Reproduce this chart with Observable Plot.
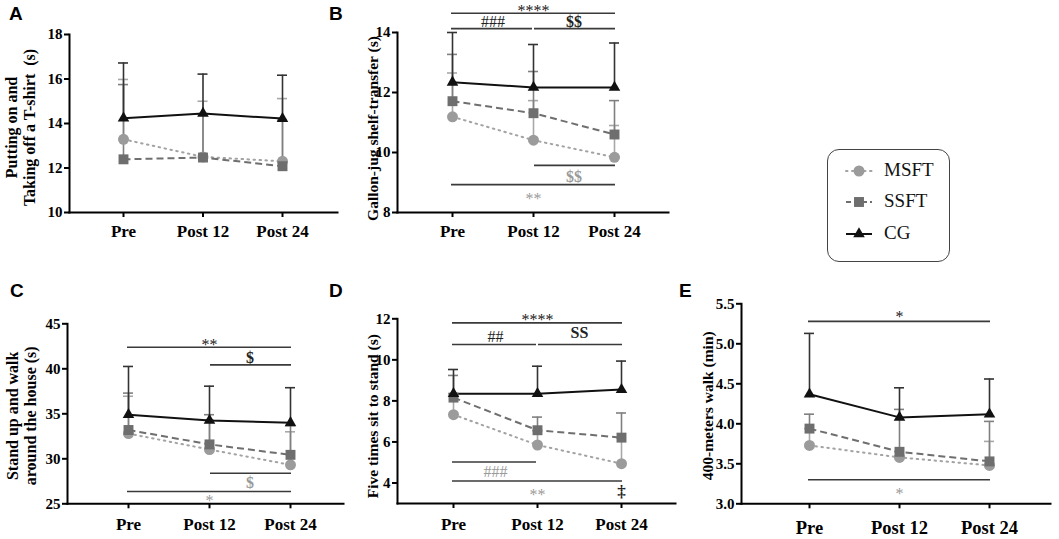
<!DOCTYPE html>
<html><head><meta charset="utf-8">
<script src="https://cdn.jsdelivr.net/npm/d3@7"></script>
<script src="https://cdn.jsdelivr.net/npm/@observablehq/plot@0.6"></script>
<style>
body{margin:0;background:#fff;}
#root{position:relative;width:1059px;height:539px;overflow:hidden;background:#fff;}
.pl{position:absolute;}
.letter{position:absolute;font:bold 19px "Liberation Sans",Arial,sans-serif;line-height:19px;color:#000;}
#legend{position:absolute;left:827px;top:149px;width:121px;height:111px;border:1.5px solid #444;border-radius:12px;box-sizing:content-box;}
.li{position:absolute;left:0;height:20px;width:121px;}
.li svg{position:absolute;left:14px;top:0;}
.li span{position:absolute;left:56px;top:-2px;font:19px "Liberation Serif","Times New Roman",serif;color:#111;line-height:22px;}
</style></head><body><div id="root"></div>
<script>
const categories = ["Pre", "Post 12", "Post 24"];
const groups = ["MSFT", "SSFT", "CG"];

// Panel A — Putting on and taking off a T-shirt (s)
const aMSFT = [13.29, 12.50, 12.30], aMSFTsd = [2.69, 2.50, 2.82];
const aSSFT = [12.39, 12.47, 12.08], aSSFTsd = [3.36, 1.93, 2.07];
const aCG   = [14.24, 14.45, 14.22], aCGsd   = [2.48, 1.77, 1.95];
const aTicks = [10, 12, 14, 16, 18];

// Panel B — Gallon-jug shelf-transfer (s)
const bMSFT = [11.19, 10.41, 9.84], bMSFTsd = [1.46, 1.32, 1.06];
const bSSFT = [11.71, 11.31, 10.60], bSSFTsd = [1.56, 1.39, 1.13];
const bCG   = [12.34, 12.17, 12.17], bCGsd   = [1.66, 1.43, 1.48];
const bTicks = [8, 10, 12, 14];
const bSig = [
  {from: "Pre", to: "Post 24", y: 14.64, ly: 14.83, label: "****", tone: "dark"},
  {from: "Pre", to: "Post 12", y: 14.13, ly: 14.37, label: "###", tone: "dark"},
  {from: "Post 12", to: "Post 24", y: 14.13, ly: 14.37, label: "$$", tone: "dark"},
  {from: "Post 12", to: "Post 24", y: 9.57, ly: 9.20, label: "$$", tone: "gray"},
  {from: "Pre", to: "Post 24", y: 8.93, ly: 8.57, label: "**", tone: "gray"}
];

// Panel C — Stand up and walk around the house (s)
const cMSFT = [32.80, 31.03, 29.33], cMSFTsd = [4.15, 3.27, 3.67];
const cSSFT = [33.20, 31.60, 30.44], cSSFTsd = [4.10, 3.30, 3.26];
const cCG   = [34.90, 34.26, 34.00], cCGsd   = [5.36, 3.81, 3.90];
const cTicks = [25, 30, 35, 40, 45];
const cSig = [
  {from: "Pre", to: "Post 24", y: 42.40, ly: 43.03, label: "**", tone: "dark"},
  {from: "Post 12", to: "Post 24", y: 40.44, ly: 41.26, label: "$", tone: "dark"},
  {from: "Post 12", to: "Post 24", y: 28.40, ly: 27.29, label: "$", tone: "gray"},
  {from: "Pre", to: "Post 24", y: 26.37, ly: 25.62, label: "*", tone: "gray"}
];

// Panel D — Five times sit to stand (s)
const dMSFT = [7.33, 5.85, 4.94], dMSFTsd = [1.02, 0.70, 1.26];
const dSSFT = [8.16, 6.57, 6.21], dSSFTsd = [1.08, 0.64, 1.20];
const dCG   = [8.35, 8.35, 8.55], dCGsd   = [1.18, 1.34, 1.39];
const dTicks = [4, 6, 8, 10, 12];
const dSig = [
  {from: "Pre", to: "Post 24", y: 11.80, ly: 12.08, label: "****", tone: "dark"},
  {from: "Pre", to: "Post 12", y: 10.75, ly: 11.14, label: "##", tone: "dark"},
  {from: "Post 12", to: "Post 24", y: 10.75, ly: 11.32, label: "SS", tone: "dark"},
  {from: "Pre", to: "Post 12", y: 5.02, ly: 4.54, label: "###", tone: "gray"},
  {from: "Pre", to: "Post 24", y: 4.10, ly: 3.56, label: "**", tone: "gray"}
];
const dNotes = [{at: "Post 24", ly: 3.56, label: "‡", tone: "dark"}];

// Panel E — 400-meters walk (min)
const eMSFT = [3.73, 3.58, 3.48], eMSFTsd = [0.21, 0.07, 0.30];
const eSSFT = [3.94, 3.65, 3.53], eSSFTsd = [0.18, 0.53, 0.50];
const eCG   = [4.37, 4.08, 4.12], eCGsd   = [0.76, 0.37, 0.44];
const eTicks = [3.0, 3.5, 4.0, 4.5, 5.0, 5.5];
const eSig = [
  {from: "Pre", to: "Post 24", y: 5.28, ly: 5.375, label: "*", tone: "dark"},
  {from: "Pre", to: "Post 24", y: 3.30, ly: 3.166, label: "*", tone: "gray"}
];

const styles = {
  MSFT: {line: "#a3a3a3", dash: "1.5,4.5", fill: "#9b9b9b", symbol: "circle", r: 5.5, err: "#a8a8a8"},
  SSFT: {line: "#6f6f6f", dash: "7,4", fill: "#6e6e6e", symbol: "square", r: 5.6, err: "#808080"},
  CG:   {line: "#111111", dash: null, fill: "#111111", symbol: "triangle", r: 4.3, err: "#333333"}
};
const toneColor = {dark: "#222", gray: "#9a9a9a"};
const SERIF = '"Liberation Serif","Times New Roman",serif';
const root = document.getElementById("root");

function panel(cfg, series, sig, notes) {
  const rows = [];
  for (const g of groups) series[g][0].forEach((m, i) =>
    rows.push({time: categories[i], group: g, mean: m, top: m + series[g][1][i]}));
  const cap = 10;
  const c = cfg.centers;
  const W = c[2] - c[0] + cap;
  const pi = (W - 3 * cap) / (W - cap);
  const step = (c[2] - c[0]) / 2;
  const idx = (k) => categories.indexOf(k);
  const marks = [];
  for (const g of groups) {
    const d = rows.filter(r => r.group === g), st = styles[g];
    marks.push(Plot.ruleX(d, {x: "time", y1: "mean", y2: "top", stroke: st.err, strokeWidth: 1.6}));
    marks.push(Plot.tickY(d, {x: "time", y: "top", stroke: st.err, strokeWidth: 1.6}));
  }
  for (const g of groups) {
    const d = rows.filter(r => r.group === g), st = styles[g];
    marks.push(Plot.lineY(d, {x: "time", y: "mean", stroke: st.line, strokeWidth: 2,
      strokeDasharray: st.dash || undefined, strokeLinecap: g === "MSFT" ? "round" : "butt"}));
  }
  for (const g of groups) {
    const d = rows.filter(r => r.group === g), st = styles[g];
    marks.push(Plot.dot(d, {x: "time", y: "mean", symbol: st.symbol, r: st.r, fill: st.fill, stroke: "none"}));
  }
  for (const s of (sig || [])) {
    const i = idx(s.from), j = idx(s.to);
    marks.push(Plot.ruleY([s], {x1: "from", x2: "to", y: "y", stroke: "#3a3a3a", strokeWidth: 1.6,
      insetLeft: i === 1 ? cap / 2 + 1 : cap / 2 - 1, insetRight: j === 1 ? cap / 2 + 1 : cap / 2 - 1}));
    marks.push(Plot.text([s], {x: "from", y: "ly", text: "label", dx: (j - i) * step / 2,
      dy: s.label.includes("*") ? 3 : 0, fill: toneColor[s.tone], fontSize: 16, fontFamily: SERIF,
      fontWeight: /[$S]/.test(s.label) ? "bold" : "normal", lineAnchor: "middle"}));
  }
  for (const n of (notes || [])) {
    marks.push(Plot.text([n], {x: "at", y: "ly", text: "label", fill: toneColor[n.tone], fontSize: 17, fontFamily: SERIF, lineAnchor: "middle"}));
  }
  marks.push(Plot.axisY({ticks: cfg.ticks, tickFormat: cfg.fmt, tickSize: 5, tickPadding: 2, strokeWidth: 2,
    fontSize: 15, fontFamily: SERIF, fontWeight: "bold", fill: "#000", label: null}));
  marks.push(Plot.axisX({tickSize: 5, tickPadding: cfg.tickPad, strokeWidth: 2, fontSize: cfg.xFont,
    fontFamily: SERIF, fontWeight: "bold", fill: "#000", label: null}));
  marks.push(Plot.frame({anchor: "left", stroke: "#000", strokeWidth: 2}));
  marks.push(Plot.frame({anchor: "bottom", stroke: "#000", strokeWidth: 2}));
  marks.push(Plot.text([cfg.ylabel], {text: d => d, frameAnchor: "left", rotate: -90, dx: cfg.labelDx, dy: cfg.labelDy,
    fontSize: cfg.labelFont, fontFamily: SERIF, fontWeight: "bold", lineHeight: 1.12, textAnchor: "middle", lineAnchor: "middle", fill: "#000"}));
  const svg = Plot.plot({
    width: cfg.width, height: cfg.height,
    marginLeft: cfg.ml, marginRight: cfg.mr, marginTop: cfg.mt, marginBottom: cfg.mb,
    style: {fontFamily: SERIF, fontWeight: "bold", fontSize: "15px", color: "#000", background: "transparent", overflow: "visible"},
    x: {type: "band", domain: categories, range: [c[0] - cap / 2, c[2] + cap / 2], paddingInner: pi, paddingOuter: 0, align: 0.5, round: false},
    y: {domain: cfg.domain},
    marks
  });
  const wrap = document.createElement("div");
  wrap.className = "pl";
  wrap.style.left = cfg.left + "px";
  wrap.style.top = cfg.top + "px";
  wrap.appendChild(svg);
  root.appendChild(wrap);
}

panel({left: 0, top: 0, width: 345, height: 260, ml: 69, mr: 8, mt: 34, mb: 48, centers: [123, 202, 282],
  domain: [10, 18], ticks: aTicks, fmt: d3.format("d"), tickPad: 7, xFont: 17,
  ylabel: "Putting on and\nTaking off a T-shirt  (s)", labelDx: -49, labelDy: 4, labelFont: 16},
  {MSFT: [aMSFT, aMSFTsd], SSFT: [aSSFT, aSSFTsd], CG: [aCG, aCGsd]}, [], []);

panel({left: 345, top: 0, width: 335, height: 260, ml: 52, mr: 12, mt: 32, mb: 48, centers: [107, 188, 269],
  domain: [8, 14], ticks: bTicks, fmt: d3.format("d"), tickPad: 7, xFont: 17,
  ylabel: "Gallon-jug shelf-transfer (s)", labelDx: -25, labelDy: 6, labelFont: 15.5},
  {MSFT: [bMSFT, bMSFTsd], SSFT: [bSSFT, bSSFTsd], CG: [bCG, bCGsd]}, bSig, []);

panel({left: 0, top: 270, width: 345, height: 269, ml: 67, mr: 2, mt: 53.3, mb: 35.7, centers: [128, 209, 290],
  domain: [25, 45], ticks: cTicks, fmt: d3.format("d"), tickPad: 9.5, xFont: 17,
  ylabel: "Stand up and walk\naround the house (s)", labelDx: -46, labelDy: 2, labelFont: 16},
  {MSFT: [cMSFT, cMSFTsd], SSFT: [cSSFT, cSSFTsd], CG: [cCG, cCGsd]}, cSig, []);

panel({left: 345, top: 270, width: 335, height: 269, ml: 52, mr: 5, mt: 48.3, mb: 36, centers: [108, 192, 276],
  domain: [3, 12], ticks: dTicks, fmt: d3.format("d"), tickPad: 9.5, xFont: 17,
  ylabel: "Five times sit to stand (s)", labelDx: -25, labelDy: 5, labelFont: 15.5},
  {MSFT: [dMSFT, dMSFTsd], SSFT: [dSSFT, dSSFTsd], CG: [dCG, dCGsd]}, dSig, dNotes);

panel({left: 680, top: 270, width: 379, height: 269, ml: 61, mr: 9, mt: 33.3, mb: 35.7, centers: [129, 219, 309],
  domain: [3, 5.5], ticks: eTicks, fmt: d3.format(".1f"), tickPad: 12, xFont: 18.5,
  ylabel: "400-meters walk (min)", labelDx: -34, labelDy: 2, labelFont: 15.5},
  {MSFT: [eMSFT, eMSFTsd], SSFT: [eSSFT, eSSFTsd], CG: [eCG, eCGsd]}, eSig, []);

// panel letters
[["A", 9, 4], ["B", 329, 4], ["C", 10, 281], ["D", 329, 281], ["E", 679, 281]].forEach(([t, x, y]) => {
  const d = document.createElement("div");
  d.className = "letter"; d.textContent = t; d.style.left = x + "px"; d.style.top = y + "px";
  root.appendChild(d);
});

// legend
const legend = document.createElement("div");
legend.id = "legend";
const legendRows = [
  {g: "MSFT", y: 11},
  {g: "SSFT", y: 42},
  {g: "CG", y: 74}
];
for (const {g, y} of legendRows) {
  const st = styles[g];
  const row = document.createElement("div");
  row.className = "li"; row.style.top = y + "px";
  const ns = "http://www.w3.org/2000/svg";
  const s = document.createElementNS(ns, "svg");
  s.setAttribute("width", 34); s.setAttribute("height", 20);
  const ln = document.createElementNS(ns, "line");
  ln.setAttribute("x1", 4); ln.setAttribute("x2", 30); ln.setAttribute("y1", 10); ln.setAttribute("y2", 10);
  ln.setAttribute("stroke", st.line); ln.setAttribute("stroke-width", 2);
  if (st.dash) ln.setAttribute("stroke-dasharray", g === "MSFT" ? "1.5,4.5" : "5,3");
  if (g === "MSFT") ln.setAttribute("stroke-linecap", "round");
  s.appendChild(ln);
  const p = document.createElementNS(ns, "path");
  p.setAttribute("d", d3.symbol(g === "MSFT" ? d3.symbolCircle : g === "SSFT" ? d3.symbolSquare : d3.symbolTriangle, Math.PI * st.r * st.r)());
  p.setAttribute("transform", "translate(17,10)");
  p.setAttribute("fill", st.fill);
  s.appendChild(p);
  row.appendChild(s);
  const sp = document.createElement("span"); sp.textContent = g;
  row.appendChild(sp);
  legend.appendChild(row);
}
root.appendChild(legend);
</script></body></html>
